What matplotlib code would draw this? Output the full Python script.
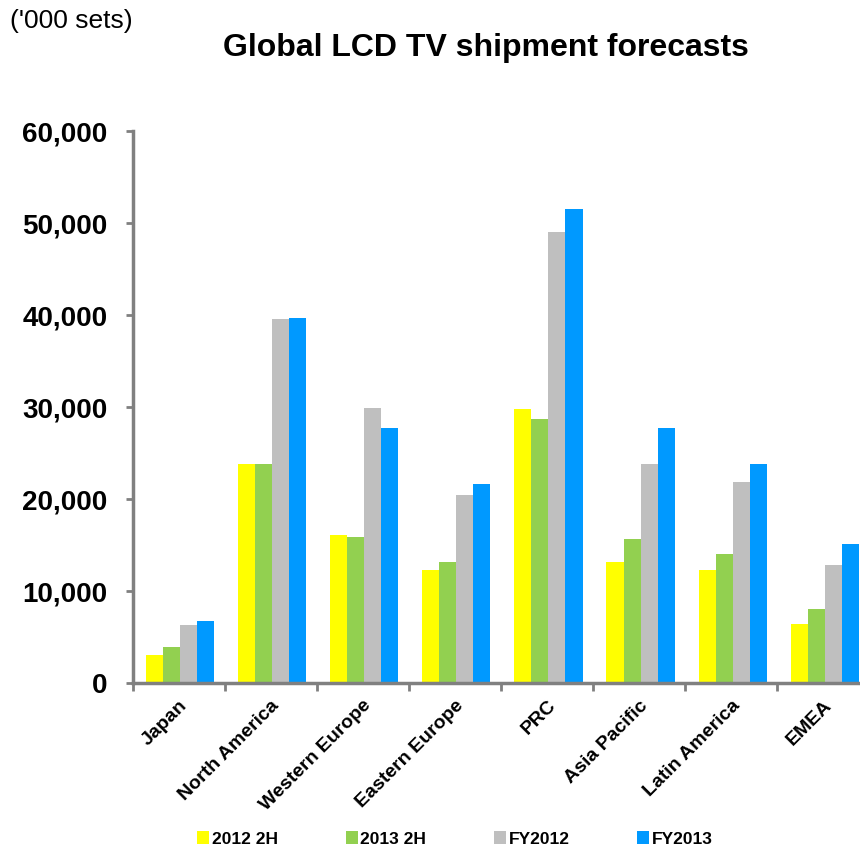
import matplotlib
matplotlib.use("Agg")
import matplotlib.pyplot as plt
import numpy as np

plt.rcParams['font.family'] = ['Liberation Sans', 'DejaVu Sans']

regions = ["Japan", "North America", "Western Europe", "Eastern Europe",
           "PRC", "Asia Pacific", "Latin America", "EMEA"]
series_names = ["2012 2H", "2013 2H", "FY2012", "FY2013"]
s2012_2h = [3100, 23850, 16050, 12300, 29800, 13150, 12300, 6450]
s2013_2h = [3900, 23850, 15900, 13150, 28700, 15650, 14000, 8100]
fy2012 = [6350, 39600, 29950, 20500, 49100, 23850, 21900, 12850]
fy2013 = [6750, 39750, 27700, 21650, 51600, 27700, 23850, 15100]
colors = ["#FFFF00", "#92D050", "#BFBFBF", "#0099FF"]
yticks = [0, 10000, 20000, 30000, 40000, 50000, 60000]

W, H = 860, 852
fig = plt.figure(figsize=(W/100, H/100), dpi=100)
ax = fig.add_axes([132.5/W, (H-683)/H, 737/W, 551.5/H])

n = len(regions)
x = np.arange(n)
bw = 0.185
start = 0.145
for k, (vals, c, name) in enumerate(zip([s2012_2h, s2013_2h, fy2012, fy2013], colors, series_names)):
    ax.bar(x + start + bw*k, vals, width=bw, align='edge', color=c, label=name, zorder=2)

ax.set_xlim(0, n)
ax.set_ylim(0, 60000)
ax.set_yticks(yticks)
ax.set_yticklabels([f"{v:,}" for v in yticks], fontsize=20, fontweight='bold')
ax.set_xticks(np.arange(n+1))
ax.set_xticklabels([])
ax.set_xticks(x + 0.5, minor=True)
ax.set_xticklabels(regions, minor=True, rotation=45, ha='right', rotation_mode='anchor',
                   fontsize=14, fontweight='bold')
ax.tick_params(axis='x', which='minor', length=0, pad=10)
ax.tick_params(axis='x', which='major', length=6, width=2, color='#808080', direction='out')
ax.tick_params(axis='y', length=5, width=2, color='#808080', direction='out', pad=13)
for s in ['top', 'right']:
    ax.spines[s].set_visible(False)
for s in ['left', 'bottom']:
    ax.spines[s].set_color('#808080')
    ax.spines[s].set_linewidth(2.5)

fig.text(486/W, 1 - 56/H, "Global LCD TV shipment forecasts", ha='center', va='baseline',
         fontsize=23, fontweight='bold')
fig.text(10/W, 1 - 28/H, "('000 sets)", ha='left', va='baseline', fontsize=19)

fig.legend(loc='center', bbox_to_anchor=(455/W, 1 - 839/H), ncol=4, frameon=False,
           handlelength=0.7, handleheight=0.7, handletextpad=0.15, columnspacing=3.9,
           borderpad=0, prop={'weight': 'bold', 'size': 12.5})

fig.savefig("out.png", dpi=100)
